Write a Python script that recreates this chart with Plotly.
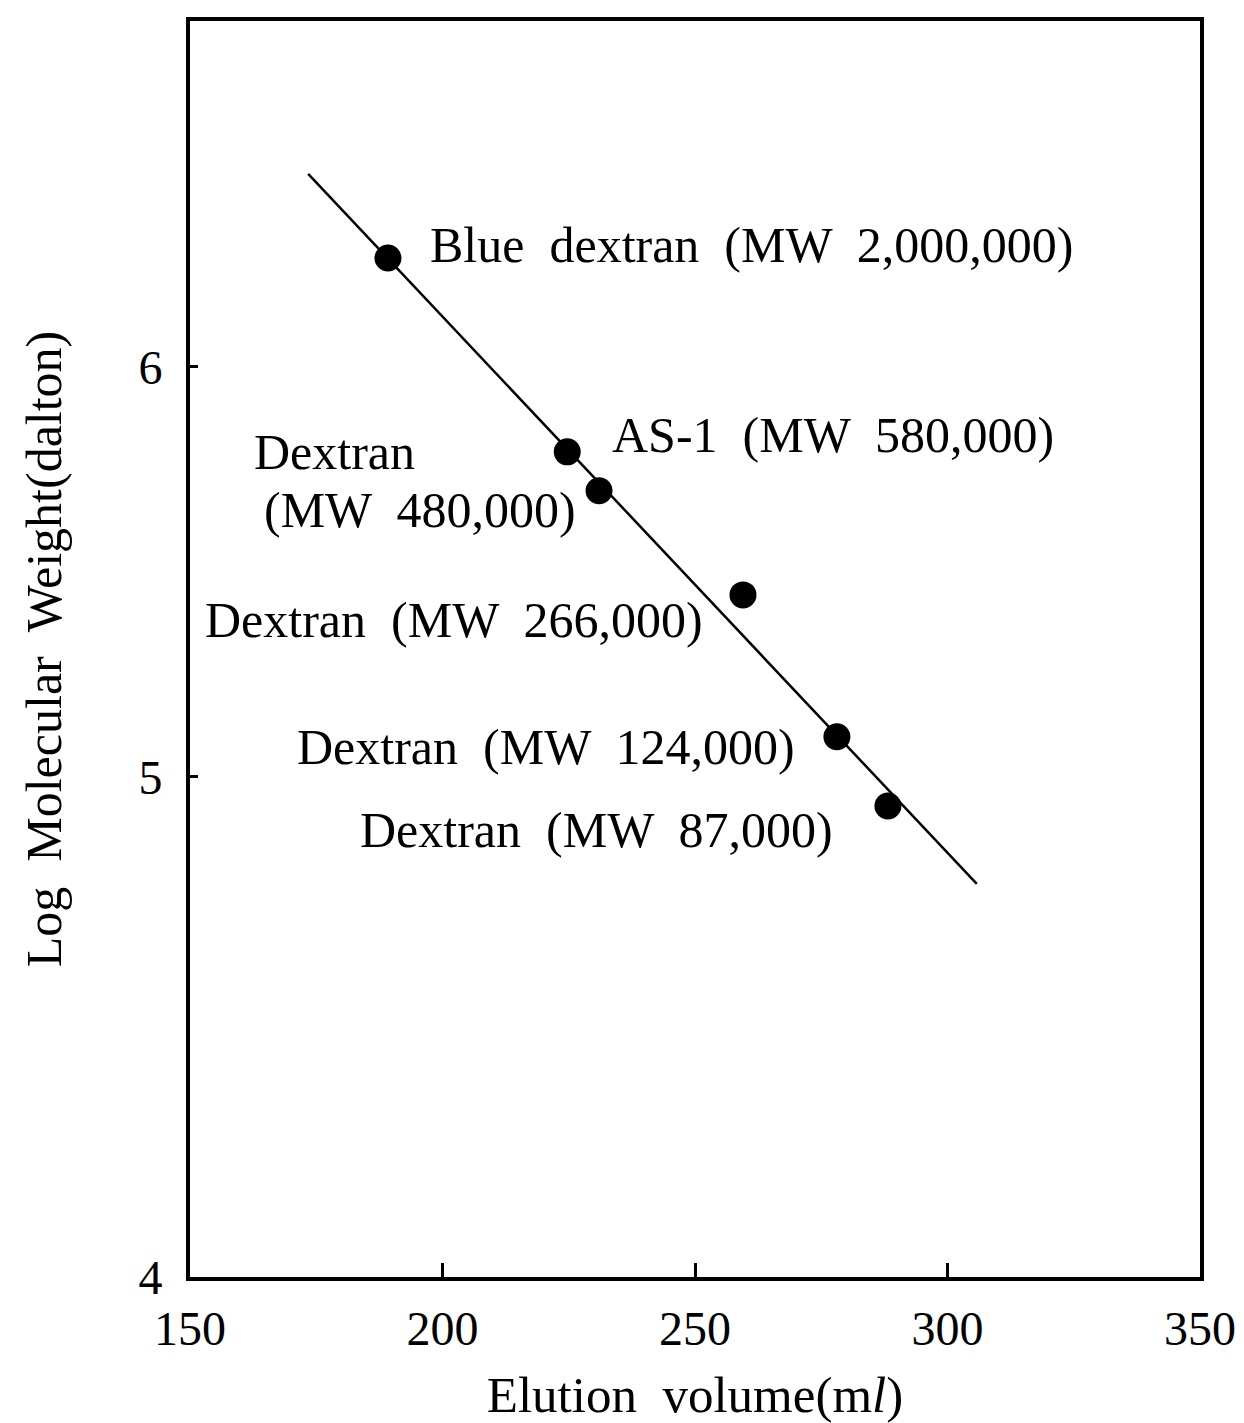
import plotly.graph_objects as go

# Data
elution_volume = [189.2, 224.7, 231.0, 259.5, 278.1, 288.2]
log_mw = [6.266, 5.793, 5.698, 5.444, 5.098, 4.929]

fit_x = [173.4, 305.8]
fit_y = [6.471, 4.739]

labels = [
    "Blue  dextran  (MW  2,000,000)",
    "AS-1  (MW  580,000)",
    "Dextran",
    "(MW  480,000)",
    "Dextran  (MW  266,000)",
    "Dextran  (MW  124,000)",
    "Dextran  (MW  87,000)",
]
label_x = [197.1, 233.2, 162.3, 164.3, 152.6, 170.8, 183.3]
label_y = [6.298, 5.834, 5.793, 5.651, 5.383, 5.073, 4.871]

x_ticks = [150, 200, 250, 300, 350]
y_tick_pos = [3.78, 5, 6]
y_tick_text = ["4", "5", "6"]

FONT = "Liberation Serif"

fig = go.Figure()
fig.add_trace(go.Scatter(x=fit_x, y=fit_y, mode="lines",
                         line=dict(color="black", width=2.5), showlegend=False))
fig.add_trace(go.Scatter(x=elution_volume, y=log_mw, mode="markers",
                         marker=dict(color="black", size=27), showlegend=False))

for t, x, y in zip(labels, label_x, label_y):
    fig.add_annotation(x=x, y=y, text=t, showarrow=False, xanchor="left",
                       yanchor="middle", font=dict(family=FONT, size=50, color="black"))

fig.update_layout(
    width=1244, height=1423,
    margin=dict(l=190, r=44, t=21, b=146),
    paper_bgcolor="white", plot_bgcolor="white",
    font=dict(family=FONT, color="black"),
)
fig.update_xaxes(range=[150, 350], tickvals=x_ticks, ticks="inside", ticklen=14,
                 tickwidth=3, tickcolor="black", showline=True, linewidth=4,
                 linecolor="black", mirror=True, showgrid=False, zeroline=False,
                 tickfont=dict(family=FONT, size=48), ticklabelstandoff=6,
                 automargin=False,
                 title=dict(text="Elution  volume(m<i>l</i>)", font=dict(family=FONT, size=51),
                            standoff=26))
fig.update_yaxes(range=[3.78, 6.844], tickvals=y_tick_pos, ticktext=y_tick_text,
                 ticks="inside", ticklen=8, tickwidth=3, tickcolor="black",
                 showline=True, linewidth=4, linecolor="black", mirror=True,
                 showgrid=False, zeroline=False, tickfont=dict(family=FONT, size=48),
                 ticklabelstandoff=14, automargin=False,
                 title=dict(text="Log  Molecular  Weight(dalton)", font=dict(family=FONT, size=50),
                            standoff=62))

fig.write_html("out.html")
